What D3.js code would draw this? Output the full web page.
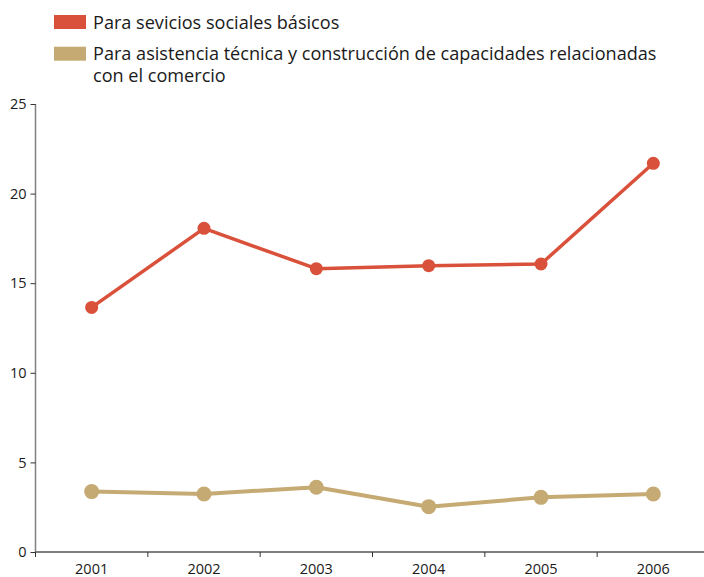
<!DOCTYPE html>
<html>
<head>
<meta charset="utf-8">
<script src="https://cdn.jsdelivr.net/npm/d3@7"></script>
<style>
  body { margin: 0; background: white; }
  svg { display: block; font-family: "Open Sans", "Noto Sans", sans-serif; }
</style>
</head>
<body>
<script>
const years = ["2001", "2002", "2003", "2004", "2005", "2006"];
const socialValues = [13.65, 18.06, 15.81, 15.98, 16.07, 21.69];
const tradeValues = [3.37, 3.24, 3.61, 2.53, 3.05, 3.24];
const yTicks = [0, 5, 10, 15, 20, 25];
const seriesNames = [
  ["Para sevicios sociales básicos"],
  ["Para asistencia técnica y construcción de capacidades relacionadas", "con el comercio"]
];
const seriesColors = ["#d9513a", "#c5ab73"];

const width = 704, height = 577;

const svg = d3.select("body").append("svg")
  .attr("width", width)
  .attr("height", height);

const x = d3.scaleBand().domain(years).range([35.5, 709.5]);
const y = d3.scaleLinear().domain([0, 25]).range([552, 104]);

// legend
const legend = svg.append("g");
let ly = 15;
seriesNames.forEach((lines, i) => {
  legend.append("rect")
    .attr("x", 54).attr("y", ly)
    .attr("width", 32).attr("height", 14)
    .attr("fill", seriesColors[i]);
  lines.forEach((t, j) => {
    legend.append("text")
      .attr("x", 93).attr("y", ly + 13.5 + j * 22)
      .attr("font-size", 18.1)
      .attr("fill", "#1a1a1a")
      .text(t);
  });
  ly += 31.7;
});

// y axis
const yAxis = svg.append("g")
  .attr("transform", "translate(35.5,0)")
  .call(d3.axisLeft(y).tickValues(yTicks).tickSize(5).tickPadding(4));
yAxis.select(".domain").attr("stroke", "#808080").attr("stroke-width", 1.5)
  .attr("d", `M0,${y(25)}V${y(0)}`);
yAxis.selectAll(".tick line").attr("stroke", "#333");
yAxis.selectAll(".tick text").attr("font-size", 14.5).attr("fill", "#1a1a1a")
  .attr("font-family", "'Open Sans', sans-serif");

// x axis
const xg = svg.append("g").attr("transform", `translate(0,${y(0)})`);
xg.append("line")
  .attr("x1", 35.5).attr("x2", width)
  .attr("stroke", "#555").attr("stroke-width", 1.5);
const bounds = years.map(d => x(d)).concat([x(years[years.length - 1]) + x.bandwidth()]);
xg.selectAll(".xt").data(bounds).join("line")
  .attr("x1", d => d).attr("x2", d => d)
  .attr("y1", 0).attr("y2", 5)
  .attr("stroke", "#333");
xg.selectAll(".xl").data(years).join("text")
  .attr("x", d => x(d) + x.bandwidth() / 2)
  .attr("y", 21.5)
  .attr("text-anchor", "middle")
  .attr("font-size", 14.5)
  .attr("fill", "#1a1a1a")
  .text(d => d);

// lines
const line = d3.line()
  .x((d, i) => x(years[i]) + x.bandwidth() / 2)
  .y(d => y(d));

[[tradeValues, 4, 7.5], [socialValues, 3.5, 6.5]].forEach(([vals, sw, r], k) => {
  const c = vals === socialValues ? seriesColors[0] : seriesColors[1];
  svg.append("path")
    .datum(vals)
    .attr("d", line)
    .attr("fill", "none")
    .attr("stroke", c)
    .attr("stroke-width", sw)
    .attr("stroke-linejoin", "round");
  svg.append("g").selectAll("circle").data(vals).join("circle")
    .attr("cx", (d, i) => x(years[i]) + x.bandwidth() / 2)
    .attr("cy", d => y(d))
    .attr("r", r)
    .attr("fill", c);
});
</script>
</body>
</html>
